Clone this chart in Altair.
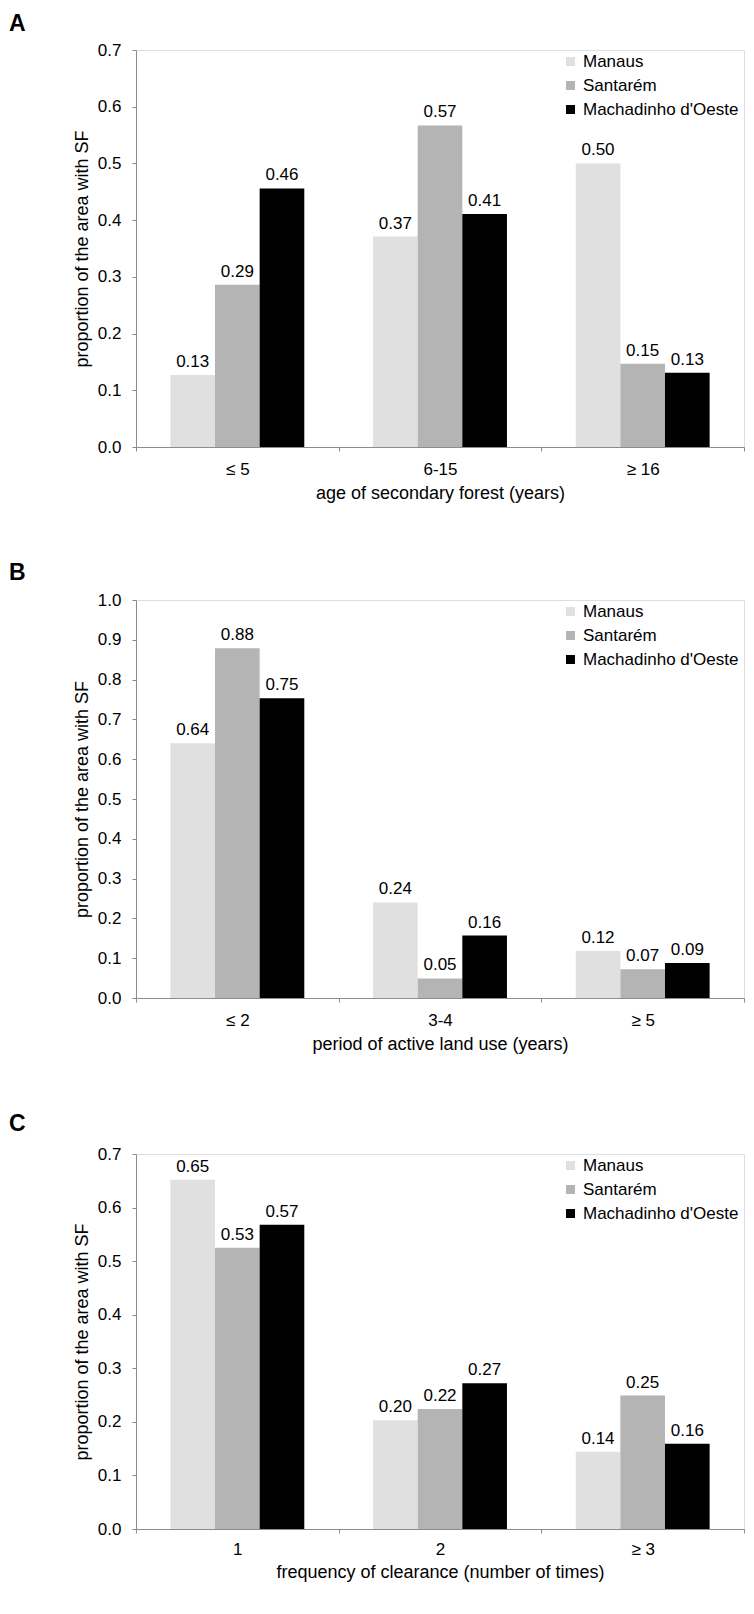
import altair as alt
import pandas as pd

sites = ["Manaus", "Santarém", "Machadinho d'Oeste"]
site_colors = ["#e0e0e0", "#b4b4b4", "#000000"]

a_cats = ["≤ 5", "6-15", "≥ 16"]
a_manaus = [0.127, 0.371, 0.500]
a_santarem = [0.286, 0.567, 0.147]
a_machadinho = [0.456, 0.411, 0.131]

b_cats = ["≤ 2", "3-4", "≥ 5"]
b_manaus = [0.640, 0.240, 0.118]
b_santarem = [0.879, 0.049, 0.072]
b_machadinho = [0.753, 0.157, 0.088]

c_cats = ["1", "2", "≥ 3"]
c_manaus = [0.652, 0.203, 0.144]
c_santarem = [0.525, 0.224, 0.249]
c_machadinho = [0.568, 0.272, 0.159]

FONT = "Liberation Sans"
GRAY = "#8c8c8c"


def panel(letter, cats, manaus, santarem, machadinho, ymax, height, xtitle,
          title_offset, label_pad, title_pad):
    rows = []
    for series, vals in zip(sites, [manaus, santarem, machadinho]):
        for c, v in zip(cats, vals):
            rows.append({"cat": c, "site": series, "value": v})
    df = pd.DataFrame(rows)
    ticks = [round(i * 0.1, 1) for i in range(int(round(ymax * 10)) + 1)]

    base = alt.Chart(df).encode(
        x=alt.X(
            "cat:N", sort=cats,
            scale=alt.Scale(paddingInner=0, paddingOuter=0),
            axis=alt.Axis(
                title=xtitle, labelAngle=0, tickBand="extent", tickSize=4,
                tickColor=GRAY, domainColor=GRAY, labelFontSize=17,
                titleFontSize=18, titleFontWeight="normal", labelFont=FONT,
                titleFont=FONT, labelColor="black", titleColor="black",
                labelPadding=label_pad, titlePadding=title_pad,
            ),
        ),
        xOffset=alt.XOffset(
            "site:N", sort=sites,
            scale=alt.Scale(domain=sites, paddingInner=0, paddingOuter=0.77),
        ),
        y=alt.Y(
            "value:Q",
            scale=alt.Scale(domain=[0, ymax], nice=False, zero=True),
            axis=alt.Axis(
                title="proportion of the area with SF", values=ticks,
                format=".1f", grid=False, tickSize=4, tickColor=GRAY,
                domainColor=GRAY, labelFontSize=17, titleFontSize=18,
                titleFontWeight="normal", labelFont=FONT, titleFont=FONT,
                labelColor="black", titleColor="black", labelPadding=11,
                titlePadding=6,
            ),
        ),
    )
    bars = base.mark_bar().encode(
        color=alt.Color(
            "site:N", sort=sites,
            scale=alt.Scale(domain=sites, range=site_colors),
            legend=alt.Legend(
                title=None, orient="none", legendX=426, legendY=3,
                symbolType="square", symbolSize=81, symbolStrokeWidth=0,
                labelFontSize=17, labelFont=FONT, labelColor="black",
                rowPadding=6, columnPadding=0, labelOffset=4, padding=0,
                labelLimit=200, offset=0,
            ),
        )
    )
    labels = base.mark_text(
        baseline="alphabetic", dy=-8, fontSize=17, font=FONT, color="black"
    ).encode(text=alt.Text("value:Q", format=".2f"))

    return alt.layer(bars, labels).properties(
        width=608, height=height,
        title=alt.TitleParams(
            text=letter, anchor="start", frame="group", dx=-127,
            fontSize=23, fontWeight="bold", font=FONT, color="black",
            offset=title_offset,
        ),
    )


pa = panel("A", a_cats, a_manaus, a_santarem, a_machadinho, 0.7, 397,
           "age of secondary forest (years)", 5, 10, 7)
pb = panel("B", b_cats, b_manaus, b_santarem, b_machadinho, 1.0, 398,
           "period of active land use (years)", 6, 10, 7)
pc = panel("C", c_cats, c_manaus, c_santarem, c_machadinho, 0.7, 375,
           "frequency of clearance (number of times)", 9, 8, 6)

chart = (
    alt.vconcat(pa, pb, pc, spacing=58)
    .resolve_scale(color="independent")
    .resolve_legend(color="independent")
    .properties(padding={"left": 0, "top": 4, "right": 0, "bottom": 0})
    .configure_view(stroke=GRAY, strokeWidth=1)
    .configure(background="white")
)

chart.save("out.html", embed_options={"renderer": "svg", "actions": False})
